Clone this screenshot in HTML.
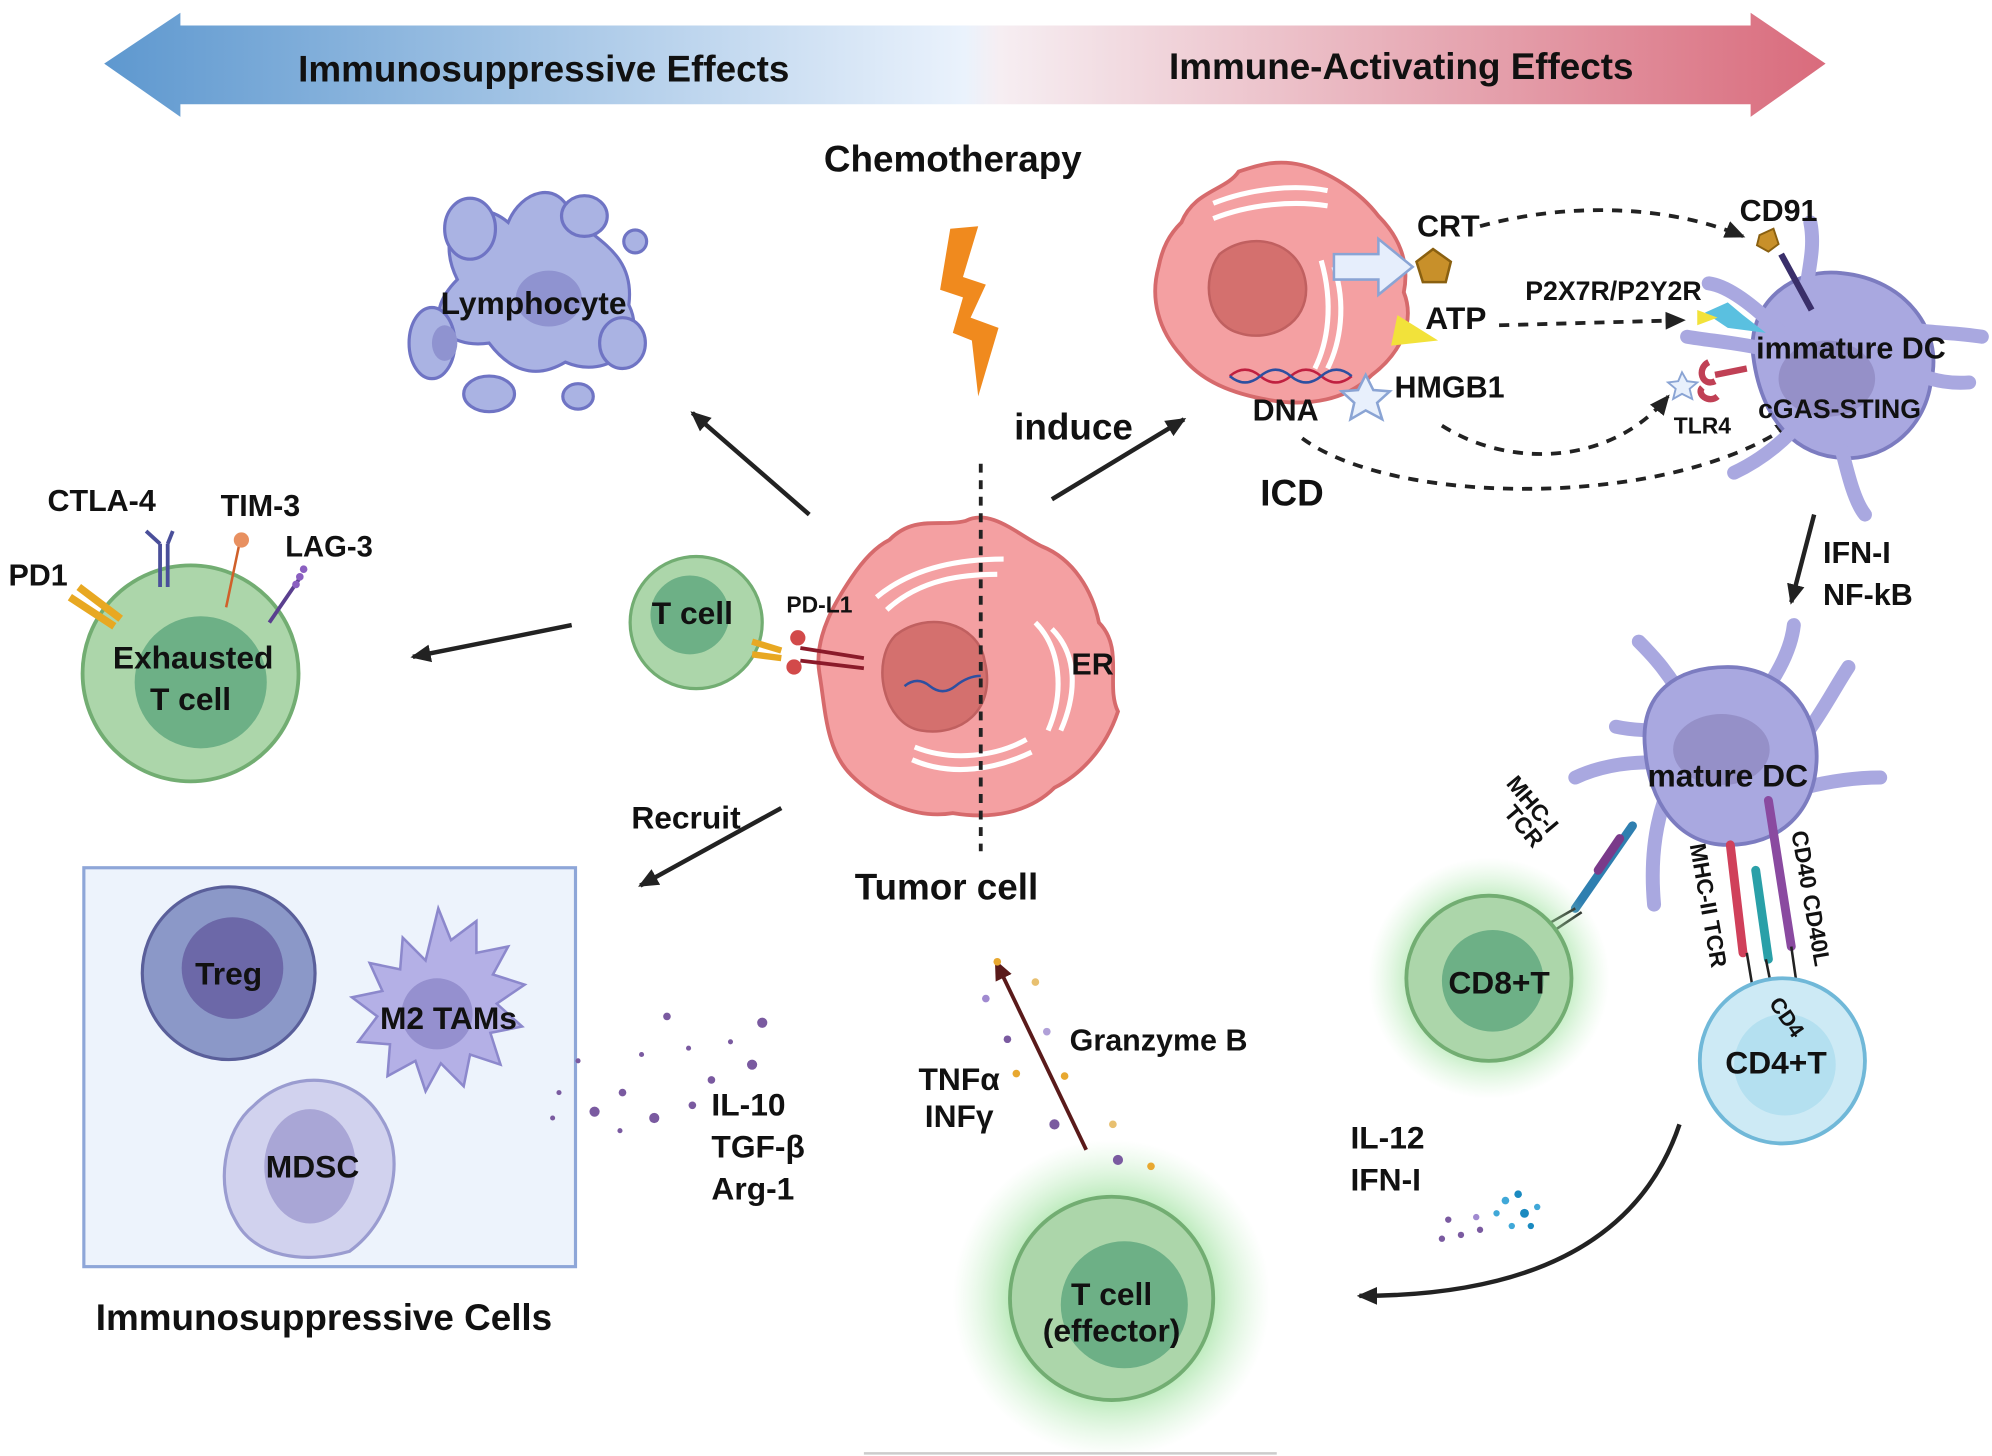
<!DOCTYPE html>
<html><head><meta charset="utf-8"><style>
html,body{margin:0;padding:0;background:#fff;}
svg{display:block;}
text{font-family:"Liberation Sans",sans-serif;font-weight:bold;fill:#111;}
</style></head><body>
<svg width="1992" height="1456" viewBox="0 0 1568 1146" xmlns="http://www.w3.org/2000/svg">
<defs>
<linearGradient id="top" x1="0" x2="1" y1="0" y2="0">
<stop offset="0" stop-color="#5e98cf"/><stop offset="0.5" stop-color="#eaf2fc"/><stop offset="0.52" stop-color="#f6eef2"/><stop offset="1" stop-color="#d96b7c"/>
</linearGradient>
<radialGradient id="glow"><stop offset="0.55" stop-color="#8fdc8f" stop-opacity="0.8"/><stop offset="1" stop-color="#bfeebf" stop-opacity="0"/></radialGradient>
<marker id="ah" markerWidth="10" markerHeight="10" refX="8" refY="5" orient="auto" markerUnits="userSpaceOnUse" viewBox="0 0 10 10"><path d="M0,0 L10,5 L0,10 z" fill="#222"/></marker>
<marker id="ah2" markerWidth="16" markerHeight="16" refX="14" refY="8" orient="auto" markerUnits="userSpaceOnUse" viewBox="0 0 16 16"><path d="M0,1 L16,8 L0,15 z" fill="#222"/></marker>
<marker id="ahr" markerWidth="16" markerHeight="16" refX="14" refY="8" orient="auto" markerUnits="userSpaceOnUse" viewBox="0 0 16 16"><path d="M0,1 L16,8 L0,15 z" fill="#5a1a1a"/></marker>
</defs>

<!-- top arrow -->
<path d="M82,50 L142,10 L142,20 L1378,20 L1378,10 L1437,50 L1378,92 L1378,82 L142,82 L142,92 z" fill="url(#top)"/>
<text x="428" y="64" font-size="29" text-anchor="middle">Immunosuppressive Effects</text>
<text x="1103" y="62" font-size="29" text-anchor="middle">Immune-Activating Effects</text>

<text x="750" y="135" font-size="29" text-anchor="middle">Chemotherapy</text>
<path d="M748,180 L770,178 L758,218 L776,224 L764,250 L786,258 L770,312 L765,268 L750,262 L758,234 L740,228 z" fill="#f08a1e"/>

<!-- lymphocyte -->
<g fill="#aab3e3" stroke="#6f74c4" stroke-width="2.5">
<path d="M360,220 C340,180 370,150 400,175 C410,150 440,140 450,170 C470,190 500,200 495,240 C510,270 480,300 445,285 C420,300 400,290 385,270 C350,275 330,250 360,220 z"/>
<ellipse cx="370" cy="180" rx="20" ry="24"/><ellipse cx="460" cy="170" rx="18" ry="16"/><ellipse cx="500" cy="190" rx="9" ry="9"/>
<ellipse cx="340" cy="270" rx="18" ry="28"/><ellipse cx="490" cy="270" rx="18" ry="20"/>
<ellipse cx="385" cy="310" rx="20" ry="14"/><ellipse cx="455" cy="312" rx="12" ry="10"/>
</g>
<ellipse cx="432" cy="235" rx="26" ry="22" fill="#8f93d0"/>
<ellipse cx="350" cy="270" rx="10" ry="14" fill="#8f93d0"/>
<text x="420" y="247" font-size="25" text-anchor="middle">Lymphocyte</text>

<!-- main arrows -->
<g stroke="#222" stroke-width="3.5" fill="none">
<line x1="637" y1="405" x2="545" y2="325" marker-end="url(#ah2)"/>
<line x1="828" y1="393" x2="932" y2="330" marker-end="url(#ah2)"/>
<line x1="450" y1="492" x2="325" y2="517" marker-end="url(#ah2)"/>
<line x1="615" y1="636" x2="504" y2="697" marker-end="url(#ah2)"/>
<line x1="1428" y1="405" x2="1410" y2="474" marker-end="url(#ah2)"/>
</g>
<text x="845" y="346" font-size="29" text-anchor="middle">induce</text>
<text x="1017" y="398" font-size="29" text-anchor="middle">ICD</text>
<text x="540" y="652" font-size="25" text-anchor="middle">Recruit</text>

<!-- tumor cell -->
<path d="M700,425 C720,405 740,415 760,410 C780,400 800,420 820,430 C845,440 860,465 865,490 C885,510 870,540 880,560 C870,590 850,610 830,620 C810,640 780,645 750,640 C720,645 690,630 670,610 C650,590 650,560 645,530 C640,500 660,470 670,455 C680,440 690,430 700,425 z" fill="#f4a0a2" stroke="#d66a6c" stroke-width="3"/>
<path d="M705,500 C730,480 770,490 775,520 C785,560 755,580 725,575 C695,570 685,520 705,500 z" fill="#d4706e" stroke="#c06060" stroke-width="2"/>
<path d="M712,540 q10,-8 20,0 t20,0 t20,-8" stroke="#2d4fa0" stroke-width="2" fill="none"/>
<g stroke="#fff" stroke-width="4" fill="none">
<path d="M690,470 C720,445 760,440 790,440"/><path d="M698,480 C725,455 760,452 785,452"/>
<path d="M815,490 C835,510 838,545 825,575"/><path d="M828,495 C848,515 848,545 835,575"/>
<path d="M718,598 C750,612 785,605 812,592"/><path d="M720,588 C750,600 785,595 808,582"/>
</g>
<line x1="772" y1="365" x2="772" y2="670" stroke="#222" stroke-width="3" stroke-dasharray="7,6"/>
<text x="860" y="531" font-size="24" text-anchor="middle">ER</text>
<text x="745" y="708" font-size="29" text-anchor="middle">Tumor cell</text>
<text x="645" y="482" font-size="18" text-anchor="middle">PD-L1</text>

<!-- T cell + PD1/PDL1 -->
<circle cx="548" cy="490" r="52" fill="#acd6aa" stroke="#72ad72" stroke-width="2.5"/>
<circle cx="543" cy="484" r="31" fill="#6db086"/>
<text x="545" y="491" font-size="25" text-anchor="middle">T cell</text>
<g stroke="#e8a822" stroke-width="5" fill="none"><path d="M592,505 L615,512 M592,515 L615,518"/></g>
<g stroke="#8b1a2a" stroke-width="3"><line x1="630" y1="510" x2="680" y2="518"/><line x1="630" y1="520" x2="680" y2="526"/></g>
<circle cx="628" cy="502" r="6" fill="#d24a4a"/><circle cx="625" cy="525" r="6" fill="#d24a4a"/>

<!-- exhausted T cell -->
<circle cx="150" cy="530" r="85" fill="#acd6aa" stroke="#72ad72" stroke-width="3"/>
<circle cx="158" cy="537" r="52" fill="#6db086"/>
<text x="152" y="526" font-size="25" text-anchor="middle">Exhausted</text>
<text x="150" y="559" font-size="25" text-anchor="middle">T cell</text>
<text x="80" y="402" font-size="24" text-anchor="middle">CTLA-4</text>
<text x="205" y="406" font-size="24" text-anchor="middle">TIM-3</text>
<text x="259" y="438" font-size="23" text-anchor="middle">LAG-3</text>
<text x="30" y="461" font-size="24" text-anchor="middle">PD1</text>
<g stroke-width="3" fill="none">
<path d="M126,462 L126,428 M132,462 L132,428 M126,428 L115,418 M132,428 L136,418" stroke="#4a4f9a"/>
<path d="M178,478 L188,430" stroke="#d0602a" stroke-width="2"/>
<path d="M212,490 L236,455" stroke="#5a3f8f"/>
<path d="M95,487 L62,462 M90,493 L55,470" stroke="#e8a822" stroke-width="6"/>
</g>
<circle cx="190" cy="425" r="6" fill="#e89060"/>
<g fill="#8a5fc0"><circle cx="233" cy="460" r="3"/><circle cx="236" cy="454" r="3"/><circle cx="239" cy="448" r="3"/></g>

<!-- immunosuppressive box -->
<rect x="66" y="683" width="387" height="314" fill="#edf3fc" stroke="#8ea6d8" stroke-width="2.5"/>
<circle cx="180" cy="766" r="68" fill="#8b98c8" stroke="#5a5f9a" stroke-width="2.5"/>
<circle cx="183" cy="762" r="40" fill="#6c68a8"/>
<text x="180" y="775" font-size="25" text-anchor="middle">Treg</text>
<path d="M345,715 l10,25 l20,-15 l0,25 l25,-5 l-12,22 l25,8 l-22,15 l20,18 l-25,5 l8,25 l-24,-8 l-5,25 l-18,-18 l-12,22 l-8,-24 l-22,12 l2,-25 l-25,-2 l15,-20 l-20,-15 l24,-5 l-10,-22 l24,5 l2,-25 l18,18 z" fill="#b4b0e6" stroke="#8c88cc" stroke-width="2"/>
<circle cx="344" cy="798" r="28" fill="#9590cf"/>
<text x="353" y="810" font-size="25" text-anchor="middle">M2 TAMs</text>
<path d="M200,870 C230,840 280,845 300,880 C320,910 310,960 275,985 C240,995 200,990 185,960 C170,935 175,890 200,870 z" fill="#d1d2ee" stroke="#9a9cd0" stroke-width="2.5"/>
<ellipse cx="244" cy="918" rx="36" ry="45" fill="#a9a6d6"/>
<text x="246" y="927" font-size="25" text-anchor="middle">MDSC</text>
<text x="255" y="1047" font-size="29" text-anchor="middle">Immunosuppressive Cells</text>

<!-- cytokine dots left -->
<g fill="#7a5aa0">
<circle cx="468" cy="875" r="4"/><circle cx="490" cy="860" r="3"/><circle cx="515" cy="880" r="4"/><circle cx="525" cy="800" r="3"/><circle cx="542" cy="825" r="2"/><circle cx="600" cy="805" r="4"/><circle cx="560" cy="850" r="3"/><circle cx="440" cy="860" r="2"/><circle cx="592" cy="838" r="4"/><circle cx="505" cy="830" r="2"/><circle cx="435" cy="880" r="2"/><circle cx="545" cy="870" r="3"/><circle cx="488" cy="890" r="2"/><circle cx="455" cy="835" r="2"/><circle cx="575" cy="820" r="2"/>
</g>
<text x="560" y="878" font-size="25">IL-10</text>
<text x="560" y="911" font-size="25">TGF-β</text>
<text x="560" y="944" font-size="25">Arg-1</text>

<!-- effector T cell -->
<circle cx="875" cy="1022" r="125" fill="url(#glow)"/>
<circle cx="875" cy="1022" r="80" fill="#acd6aa" stroke="#72ad72" stroke-width="3"/>
<circle cx="885" cy="1027" r="50" fill="#6db086"/>
<text x="875" y="1027" font-size="25" text-anchor="middle">T cell</text>
<text x="875" y="1056" font-size="25" text-anchor="middle">(effector)</text>
<line x1="855" y1="905" x2="784" y2="757" stroke="#5a1a1a" stroke-width="3" marker-end="url(#ahr)"/>
<g><circle cx="785" cy="757" r="3" fill="#e8a830"/><circle cx="815" cy="773" r="3" fill="#e8c070"/><circle cx="776" cy="786" r="3" fill="#a08ad0"/><circle cx="824" cy="812" r="3" fill="#b0a0d8"/><circle cx="800" cy="845" r="3" fill="#e8a830"/><circle cx="838" cy="847" r="3" fill="#e8a830"/><circle cx="830" cy="885" r="4" fill="#7a5aa0"/><circle cx="876" cy="885" r="3" fill="#e8c070"/><circle cx="880" cy="913" r="4" fill="#7a5aa0"/><circle cx="906" cy="918" r="3" fill="#e8a830"/><circle cx="793" cy="818" r="3" fill="#7a5aa0"/></g>
<text x="842" y="827" font-size="24">Granzyme B</text>
<text x="755" y="858" font-size="25" text-anchor="middle">TNFα</text>
<text x="755" y="887" font-size="25" text-anchor="middle">INFγ</text>

<!-- ICD cell -->
<path d="M930,175 C940,150 965,150 975,135 C990,130 1005,125 1025,130 C1045,135 1070,150 1085,170 C1100,185 1110,205 1105,230 C1115,255 1100,280 1080,295 C1060,315 1030,320 1000,315 C970,310 945,300 930,280 C912,260 905,235 912,210 C915,195 920,185 930,175 z" fill="#f4a0a2" stroke="#d66a6c" stroke-width="3"/>
<path d="M960,200 C985,180 1025,190 1028,225 C1030,255 1000,270 975,262 C950,255 945,220 960,200 z" fill="#d4706e" stroke="#c06060" stroke-width="2"/>
<g stroke="#fff" stroke-width="4" fill="none">
<path d="M955,160 C985,148 1020,145 1045,150"/><path d="M955,172 C985,160 1020,158 1045,162"/>
<path d="M1050,210 C1060,240 1055,270 1045,290"/><path d="M1040,205 C1050,240 1045,270 1035,290"/>
</g>
<path d="M968,296 q12,-10 24,0 t24,0 t24,0 t24,0" stroke="#c02040" stroke-width="2" fill="none"/>
<path d="M968,296 q12,10 24,0 t24,0 t24,0 t24,0" stroke="#2d4fa0" stroke-width="2" fill="none"/>
<path d="M1050,200 L1085,200 L1085,188 L1112,210 L1085,232 L1085,220 L1050,220 z" fill="#e6eefc" stroke="#8aa4d4" stroke-width="2"/>
<path d="M1128,196 L1142,206 L1138,222 L1120,222 L1115,206 z" fill="#c8902a" stroke="#8a6010" stroke-width="2"/>
<path d="M1100,248 L1132,268 L1095,272 z" fill="#f2e23a"/>
<path d="M1075,295 l6,12 l13,1 l-10,9 l4,13 l-13,-7 l-12,7 l3,-13 l-10,-9 l13,-1 z" fill="#e8f0fc" stroke="#8aa4d4" stroke-width="2"/>
<text x="1140" y="186" font-size="24" text-anchor="middle">CRT</text>
<text x="1146" y="259" font-size="25" text-anchor="middle">ATP</text>
<text x="1141" y="313" font-size="24" text-anchor="middle">HMGB1</text>
<text x="1012" y="331" font-size="24" text-anchor="middle">DNA</text>

<!-- dashed connectors -->
<g stroke="#222" stroke-width="3" fill="none" stroke-dasharray="8,7">
<path d="M1165,178 C1230,160 1310,160 1372,186" marker-end="url(#ah2)"/>
<path d="M1180,256 L1325,252" marker-end="url(#ah2)"/>
<path d="M1135,335 C1190,370 1270,365 1313,312" marker-end="url(#ah2)"/>
<path d="M1025,345 C1100,400 1320,400 1412,332" marker-end="url(#ah2)"/>
</g>

<!-- immature DC -->
<g fill="#a9a8e0" stroke="#7c7cc0" stroke-width="3" stroke-linecap="round">
<path d="M1380,280 C1375,240 1410,210 1450,215 C1500,220 1530,260 1520,300 C1515,340 1480,365 1445,360 C1405,355 1385,320 1380,280 z"/>
</g>
<g stroke="#a9a8e0" stroke-width="11" stroke-linecap="round" fill="none">
<path d="M1420,250 C1420,220 1430,200 1425,175"/><path d="M1400,260 C1380,240 1360,225 1345,223"/>
<path d="M1390,275 C1370,270 1345,268 1328,265"/><path d="M1510,295 C1525,300 1535,302 1550,301"/>
<path d="M1410,340 C1395,355 1380,365 1365,372"/><path d="M1450,355 C1455,375 1460,395 1468,405"/>
<path d="M1510,260 C1525,262 1540,262 1560,265"/>
</g>
<ellipse cx="1438" cy="298" rx="38" ry="30" fill="#9590c8"/>
<path d="M1385,185 L1396,180 L1400,192 L1392,198 L1383,193 z" fill="#c8902a" stroke="#8a6010" stroke-width="1.5"/>
<line x1="1402" y1="200" x2="1426" y2="244" stroke="#3a2f6a" stroke-width="5"/>
<path d="M1342,246 L1360,238 L1372,248 L1390,262 L1360,258 z" fill="#5ac0e0"/>
<path d="M1336,244 L1352,250 L1336,256 z" fill="#f2e23a"/>
<path d="M1324,293 l4,7 l8,1 l-6,5 l2,8 l-8,-4 l-7,4 l2,-8 l-6,-5 l8,-1 z" fill="#e8f0fc" stroke="#8aa4d4" stroke-width="1.5"/>
<path d="M1345,285 C1335,290 1340,305 1350,300 M1340,305 C1335,310 1345,318 1352,312 M1350,295 L1375,290" stroke="#c04055" stroke-width="5" fill="none"/>
<text x="1400" y="174" font-size="24" text-anchor="middle">CD91</text>
<text x="1270" y="236" font-size="21" text-anchor="middle">P2X7R/P2Y2R</text>
<text x="1457" y="282" font-size="24" text-anchor="middle">immature DC</text>
<text x="1448" y="329" font-size="21" text-anchor="middle">cGAS-STING</text>
<text x="1340" y="341" font-size="18" text-anchor="middle">TLR4</text>
<text x="1435" y="443" font-size="24">IFN-I</text>
<text x="1435" y="476" font-size="24">NF-kB</text>

<!-- mature DC -->
<g stroke="#a9a8e0" stroke-width="11" stroke-linecap="round" fill="none">
<path d="M1330,560 C1315,530 1300,515 1290,505"/><path d="M1385,550 C1400,530 1410,510 1412,492"/>
<path d="M1420,580 C1435,560 1445,540 1455,525"/><path d="M1300,600 C1275,600 1255,605 1240,612"/>
<path d="M1310,630 C1300,660 1300,690 1302,712"/><path d="M1420,620 C1440,615 1460,612 1480,612"/>
<path d="M1320,575 C1300,575 1285,575 1272,572"/>
</g>
<path d="M1295,590 C1290,545 1320,525 1360,525 C1400,525 1430,555 1430,595 C1430,640 1400,665 1360,665 C1320,665 1298,630 1295,590 z" fill="#a9a8e0" stroke="#7c7cc0" stroke-width="3"/>
<ellipse cx="1355" cy="590" rx="38" ry="28" fill="#9590c8"/>
<text x="1360" y="619" font-size="25" text-anchor="middle">mature DC</text>

<!-- receptors -->
<g stroke-width="7" stroke-linecap="round">
<line x1="1285" y1="650" x2="1240" y2="715" stroke="#2f7fb0"/>
<line x1="1275" y1="660" x2="1258" y2="685" stroke="#7a3a8a"/>
<line x1="1362" y1="665" x2="1372" y2="750" stroke="#d0405a"/>
<line x1="1382" y1="685" x2="1392" y2="755" stroke="#2aa0a8"/>
<line x1="1392" y1="630" x2="1410" y2="745" stroke="#8a4aa0"/>
</g>
<g stroke="#222" stroke-width="2">
<line x1="1240" y1="715" x2="1205" y2="735"/><line x1="1245" y1="718" x2="1212" y2="740"/>
<line x1="1375" y1="750" x2="1380" y2="780"/><line x1="1390" y1="755" x2="1395" y2="780"/><line x1="1410" y1="745" x2="1415" y2="780"/>
</g>
<text font-size="18" transform="translate(1185,617) rotate(50)">MHC-I</text>
<text font-size="18" transform="translate(1183,640) rotate(50)">TCR</text>
<text font-size="18" transform="translate(1330,665) rotate(80)">MHC-II TCR</text>
<text font-size="18" transform="translate(1410,655) rotate(80)">CD40  CD40L</text>

<!-- CD8 -->
<circle cx="1172" cy="770" r="95" fill="url(#glow)"/>
<circle cx="1172" cy="770" r="65" fill="#acd6aa" stroke="#72ad72" stroke-width="3"/>
<circle cx="1175" cy="772" r="40" fill="#6db086"/>
<text x="1180" y="782" font-size="25" text-anchor="middle">CD8+T</text>

<!-- CD4 -->
<circle cx="1403" cy="835" r="65" fill="#cdeaf5" stroke="#70b8d8" stroke-width="3"/>
<circle cx="1405" cy="838" r="40" fill="#b4e0f0"/>
<text x="1398" y="845" font-size="25" text-anchor="middle">CD4+T</text>
<text font-size="17" transform="translate(1392,790) rotate(55)">CD4</text>

<!-- bottom right -->
<path d="M1322,885 C1290,980 1200,1020 1070,1020" stroke="#222" stroke-width="3.5" fill="none" marker-end="url(#ah2)"/>
<text x="1063" y="904" font-size="25">IL-12</text>
<text x="1063" y="937" font-size="25">IFN-I</text>
<g><circle cx="1140" cy="960" r="2.5" fill="#7a5aa0"/><circle cx="1150" cy="972" r="2.5" fill="#7a5aa0"/><circle cx="1162" cy="958" r="2.5" fill="#a08ad0"/><circle cx="1135" cy="975" r="2.5" fill="#7a5aa0"/><circle cx="1165" cy="968" r="2.5" fill="#7a5aa0"/><circle cx="1185" cy="945" r="3" fill="#40a8d8"/><circle cx="1195" cy="940" r="3" fill="#1a8ac0"/><circle cx="1200" cy="955" r="3.5" fill="#1a8ac0"/><circle cx="1210" cy="950" r="2.5" fill="#40a8d8"/><circle cx="1190" cy="965" r="2.5" fill="#40a8d8"/><circle cx="1178" cy="955" r="2.5" fill="#40a8d8"/><circle cx="1205" cy="965" r="2.5" fill="#1a8ac0"/></g>
<line x1="680" y1="1144" x2="1005" y2="1144" stroke="#ccc" stroke-width="2"/>
</svg>
</body></html>
